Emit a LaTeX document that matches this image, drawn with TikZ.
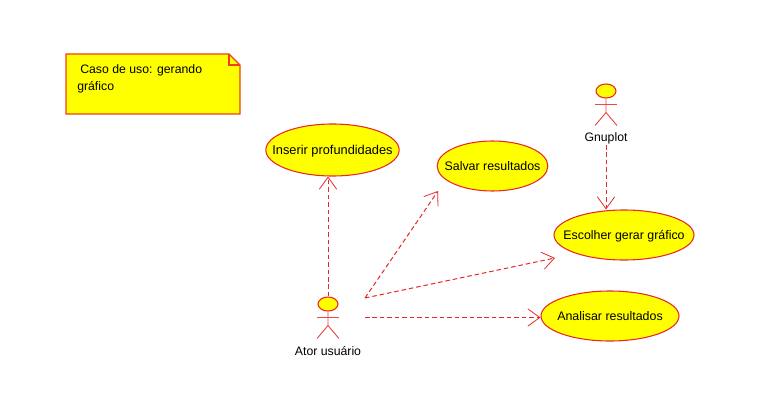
\documentclass[tikz,border=0pt]{standalone}
\usepackage{fontspec}
\setmainfont{Liberation Sans}
\usetikzlibrary{arrows.meta, shapes.geometric, calc}
\definecolor{umlred}{RGB}{232,40,40}
\definecolor{umlyellow}{RGB}{255,255,0}
\newcommand{\centrado}[1]{\raisebox{-3.2pt}[0pt][0pt]{\makebox[0pt]{#1}}}
\tikzset{> = { Straight Barb[length = 9pt, width = 13pt, line width = 0.6pt] }}
\tikzset{usecase/.style = {draw = umlred, fill = umlyellow, ellipse, inner sep = 0pt, line width = 0.8pt, font = \fontsize{9.3}{11}\selectfont}}
\tikzset{head/.style = {usecase, minimum width = 15pt, minimum height = 10.5pt}}
\tikzset{rotulo/.style = {font = \fontsize{9.2}{11}\selectfont, text = black, inner sep = 0pt}}
\tikzset{relacao/.style = {draw = umlred, dashed, dash pattern = on 3.4pt off 2.2pt, line width = 0.75pt, ->}}
\tikzset{membro/.style = {draw = umlred!85!white, line width = 0.7pt}}

\begin{document}
\begin{tikzpicture}[x = 0.75pt, y = -0.75pt]
	\useasboundingbox (0, 0) rectangle (773, 410);

	% Note.
	\draw [draw = umlred!70!orange, fill = umlyellow, line width = 1pt] (66, 54)
		to (229, 54)
		to (240, 65)
		to (240, 114)
		to (66, 114)
		to cycle;
	\draw [draw = umlred!70!orange, line width = 0.8pt] (229, 54)
		to (229, 65)
		to (240, 65);
	\node [rotulo, anchor = base west] (nota1) at (80, 74) {Caso de uso: gerando};
	\node [rotulo, anchor = base west] (nota2) at (77, 90) {gráfico};

	% Use cases.
	\node [usecase, minimum width = 100pt, minimum height = 39pt] (inserir) at (332.5, 150) {\centrado{\fontsize{9.6}{11}\selectfont Inserir profundidades}};
	\node [usecase, minimum width = 83pt, minimum height = 37.5pt] (salvar) at (492.5, 166) {\centrado{Salvar resultados}};
	\node [usecase, minimum width = 105pt, minimum height = 37.5pt] (escolher) at (624, 235) {\centrado{Escolher gerar gráfico}};
	\node [usecase, minimum width = 103.5pt, minimum height = 37.5pt] (analisar) at (610, 316) {\centrado{Analisar resultados}};

	% Actors.
	\node [head] (ator) at (328, 304) {};
	\node [head] (gnuplot) at (606, 91) {};
	\node [rotulo] (atorlabel) at (328, 351) {Ator usuário};
	\node [rotulo] (gnuplotlabel) at (606, 138) {Gnuplot};

	\draw [membro] (ator.south) to ++(0, 14) coordinate (atorq)
		to ++(-11, 13);
	\draw [membro] (atorq) to ++(11, 13);
	\draw [membro] (317, 317) to (339, 317);

	\draw [membro] (gnuplot.south) to ++(0, 14) coordinate (gnuq)
		to ++(-11, 13);
	\draw [membro] (gnuq) to ++(11, 13);
	\draw [membro] (595, 104) to (617, 104);

	% Free ends of the connectors.
	\coordinate (A) at (365, 298);
	\coordinate (B) at (365, 317.5);
	\coordinate (C) at (606, 145);
	\coordinate (S) at (438, 191);
	\coordinate (E) at (555, 258);

	\draw [relacao] (ator.north) to (ator.north |- inserir.south);
	\draw [relacao] (A) to (S);
	\draw [relacao] (A) to (E);
	\draw [relacao] (B) to (analisar.west |- B);
	\draw [relacao] (C) to (C |- escolher.north);
\end{tikzpicture}
\end{document}
